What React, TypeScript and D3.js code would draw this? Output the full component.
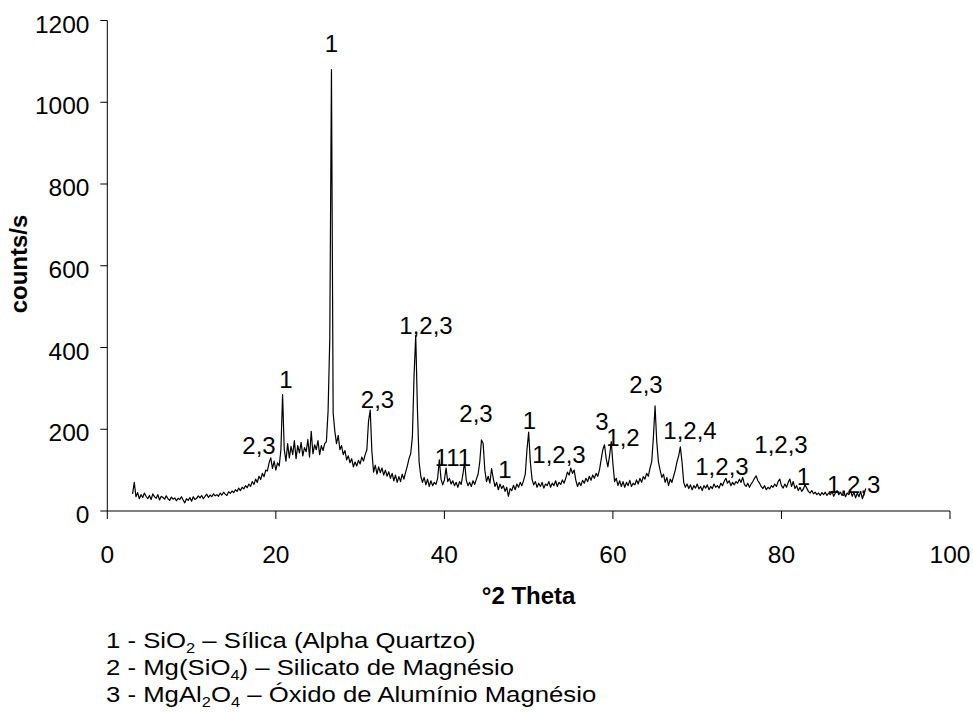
import React from 'react';
import * as d3 from 'd3';

// XRD scan grid: 2θ from 3.0° in 0.2° steps
const thetaStart = 3.0;
const thetaStep = 0.2;

// counts/s, one row per 2° (10 readings)
const counts: number[] = [
  42, 70, 35, 45, 30, 40, 33, 44, 36, 30, // 3
  38, 28, 42, 35, 31, 40, 27, 36, 33, 29, // 5
  37, 30, 26, 34, 29, 32, 25, 31, 28, 35, // 7
  27, 20, 30, 26, 33, 24, 35, 28, 31, 37, // 9
  32, 38, 30, 36, 41, 33, 39, 35, 42, 37, // 11
  40, 36, 44, 39, 46, 41, 38, 47, 43, 49, // 13
  45, 52, 48, 56, 50, 58, 54, 62, 57, 66, // 15
  60, 72, 65, 78, 70, 85, 77, 92, 84, 100, // 17
  98, 118, 130, 104, 122, 100, 118, 110, 150, 285, // 19
  150, 122, 165, 130, 158, 138, 172, 128, 160, 142, // 21
  168, 135, 155, 145, 175, 132, 195, 140, 162, 150, // 23
  172, 138, 160, 148, 165, 170, 245, 420, 1080, 240, // 25
  195, 165, 185, 150, 160, 138, 148, 125, 135, 118, // 27
  128, 108, 120, 110, 124, 115, 132, 122, 138, 150, // 29
  220, 247, 145, 95, 112, 90, 108, 94, 105, 88, // 31
  100, 85, 96, 80, 92, 74, 88, 70, 84, 72, // 33
  90, 78, 95, 110, 128, 140, 180, 330, 430, 250, // 35
  120, 85, 70, 82, 64, 78, 60, 74, 62, 70, // 37
  65, 80, 125, 78, 64, 76, 105, 72, 80, 66, // 39
  74, 62, 70, 58, 72, 65, 90, 120, 75, 62, // 41
  70, 60, 74, 65, 78, 90, 120, 174, 165, 100, // 43
  72, 85, 68, 104, 80, 60, 70, 52, 66, 55, // 45
  62, 48, 58, 36, 55, 50, 63, 52, 66, 58, // 47
  70, 62, 75, 90, 150, 193, 120, 78, 64, 72, // 49
  58, 68, 60, 70, 56, 66, 62, 72, 58, 68, // 51
  62, 74, 60, 70, 65, 76, 68, 80, 95, 88, // 53
  105, 92, 100, 75, 60, 70, 62, 75, 68, 80, // 55
  72, 85, 75, 88, 80, 92, 85, 100, 125, 150, // 57
  162, 128, 108, 135, 170, 115, 72, 80, 62, 74, // 59
  60, 72, 58, 70, 62, 75, 60, 68, 64, 76, // 61
  66, 80, 70, 84, 78, 92, 85, 105, 120, 180, // 63
  257, 170, 120, 100, 82, 90, 70, 82, 62, 78, // 65
  70, 85, 100, 120, 135, 157, 120, 70, 58, 66, // 67
  55, 64, 52, 62, 56, 66, 54, 60, 50, 62, // 69
  56, 64, 52, 60, 55, 66, 58, 62, 56, 68, // 71
  62, 72, 80, 68, 74, 62, 70, 64, 72, 68, // 73
  78, 70, 82, 65, 60, 68, 58, 66, 72, 80, // 75
  86, 74, 68, 60, 55, 62, 52, 58, 54, 62, // 77
  58, 66, 60, 72, 78, 62, 56, 66, 58, 70, // 79
  78, 60, 72, 55, 62, 50, 58, 48, 54, 64, // 81
  56, 48, 44, 50, 42, 46, 40, 44, 38, 45, // 83
  40, 46, 38, 44, 40, 48, 36, 44, 50, 40, // 85
  46, 38, 48, 35, 44, 40, 50, 36, 46, 32, // 87
  44, 35, 48, 30, 42, 55, // 89
];

const xTicks = [0, 20, 40, 60, 80, 100];
const yTicks = [0, 200, 400, 600, 800, 1000, 1200];

// peak annotations: label text, 2θ (centre) and counts (baseline)
const peakText = ['1', '2,3', '1', '2,3', '1,2,3', '111', '2,3', '1', '1', '1,2,3', '3', '1,2', '2,3', '1,2,4', '1,2,3', '1,2,3', '1', '1,2,3'];
const peakTheta = [26.6, 18.0, 21.2, 32.06, 37.82, 41.02, 43.75, 47.2, 50.1, 53.6, 58.7, 61.2, 63.93, 69.15, 72.94, 79.95, 82.6, 88.56];
const peakCount = [1124, 140, 301, 251, 433, 110, 218, 80, 201, 118, 198, 159, 289, 176, 89, 143, 64, 44];

const xLabel = '°2 Theta';
const yLabel = 'counts/s';

// legend lines: [text, isSubscript]
const legendLine1: [string, boolean][] = [['1 - SiO', false], ['2', true], [' – Sílica (Alpha Quartzo)', false]];
const legendLine2: [string, boolean][] = [['2 - Mg(SiO', false], ['4', true], [') – Silicato de Magnésio', false]];
const legendLine3: [string, boolean][] = [['3 - MgAl', false], ['2', true], ['O', false], ['4', true], [' – Óxido de Alumínio Magnésio', false]];
const legendLines = [legendLine1, legendLine2, legendLine3];

const W = 973;
const H = 713;
const FONT = '"Liberation Sans", Arial, Helvetica, sans-serif';

export default function App() {
  const x = d3.scaleLinear().domain([0, 100]).range([107.3, 950]);
  const y = d3.scaleLinear().domain([0, 1200]).range([511, 20.5]);

  const line = d3
    .line<number>()
    .x((_, i) => x(thetaStart + i * thetaStep))
    .y((d) => y(d));

  const x0 = x.range()[0];
  const y0 = y.range()[0];

  return (
    <svg
      width={W}
      height={H}
      style={{ position: 'absolute', left: 0, top: 0, background: '#fff' }}
      fontFamily={FONT}
    >
      <rect x={0} y={0} width={W} height={H} fill="#fff" />
      {/* axes */}
      <line x1={x0} x2={x0} y1={y(1200)} y2={y0} stroke="#000" strokeWidth={1} />
      <line x1={x0} x2={x(100)} y1={y0} y2={y0} stroke="#000" strokeWidth={1} />
      {yTicks.map((t) => (
        <g key={'y' + t}>
          <line x1={x0 - 7} x2={x0} y1={y(t)} y2={y(t)} stroke="#000" />
          <text x={89.5} y={y(t) + 12} textAnchor="end" fontSize={24.5} fill="#000">
            {t}
          </text>
        </g>
      ))}
      {xTicks.map((t) => (
        <g key={'x' + t}>
          <line x1={x(t)} x2={x(t)} y1={y0} y2={y0 + 8} stroke="#000" />
          <text x={x(t)} y={563} textAnchor="middle" fontSize={24.5} fill="#000">
            {t}
          </text>
        </g>
      ))}
      {/* axis titles */}
      <text x={(x(0) + x(100)) / 2} y={604} textAnchor="middle" fontSize={24} fontWeight="bold" fill="#000">
        {xLabel}
      </text>
      <text
        transform={`translate(27,264) rotate(-90)`}
        textAnchor="middle"
        fontSize={24}
        fontWeight="bold"
        fill="#000"
      >
        {yLabel}
      </text>
      {/* data */}
      <path d={line(counts) || ''} fill="none" stroke="#000" strokeWidth={1.2} strokeLinejoin="round" />
      {/* peak labels */}
      {peakText.map((t, i) => (
        <text key={'p' + i} x={x(peakTheta[i])} y={y(peakCount[i])} textAnchor="middle" fontSize={24} fill="#000">
          {t}
        </text>
      ))}
      {/* legend */}
      {legendLines.map((segs, li) => (
        <g key={'l' + li} transform={`translate(106,${648 + li * 27}) scale(1.17,1)`}>
          <text x={0} y={0} fontSize={22} fill="#000">
            {segs.map(([s, sub], si) => (
              <tspan key={si} fontSize={sub ? 14 : 22} baselineShift={sub ? '-5' : undefined}>
                {s}
              </tspan>
            ))}
          </text>
        </g>
      ))}
    </svg>
  );
}
